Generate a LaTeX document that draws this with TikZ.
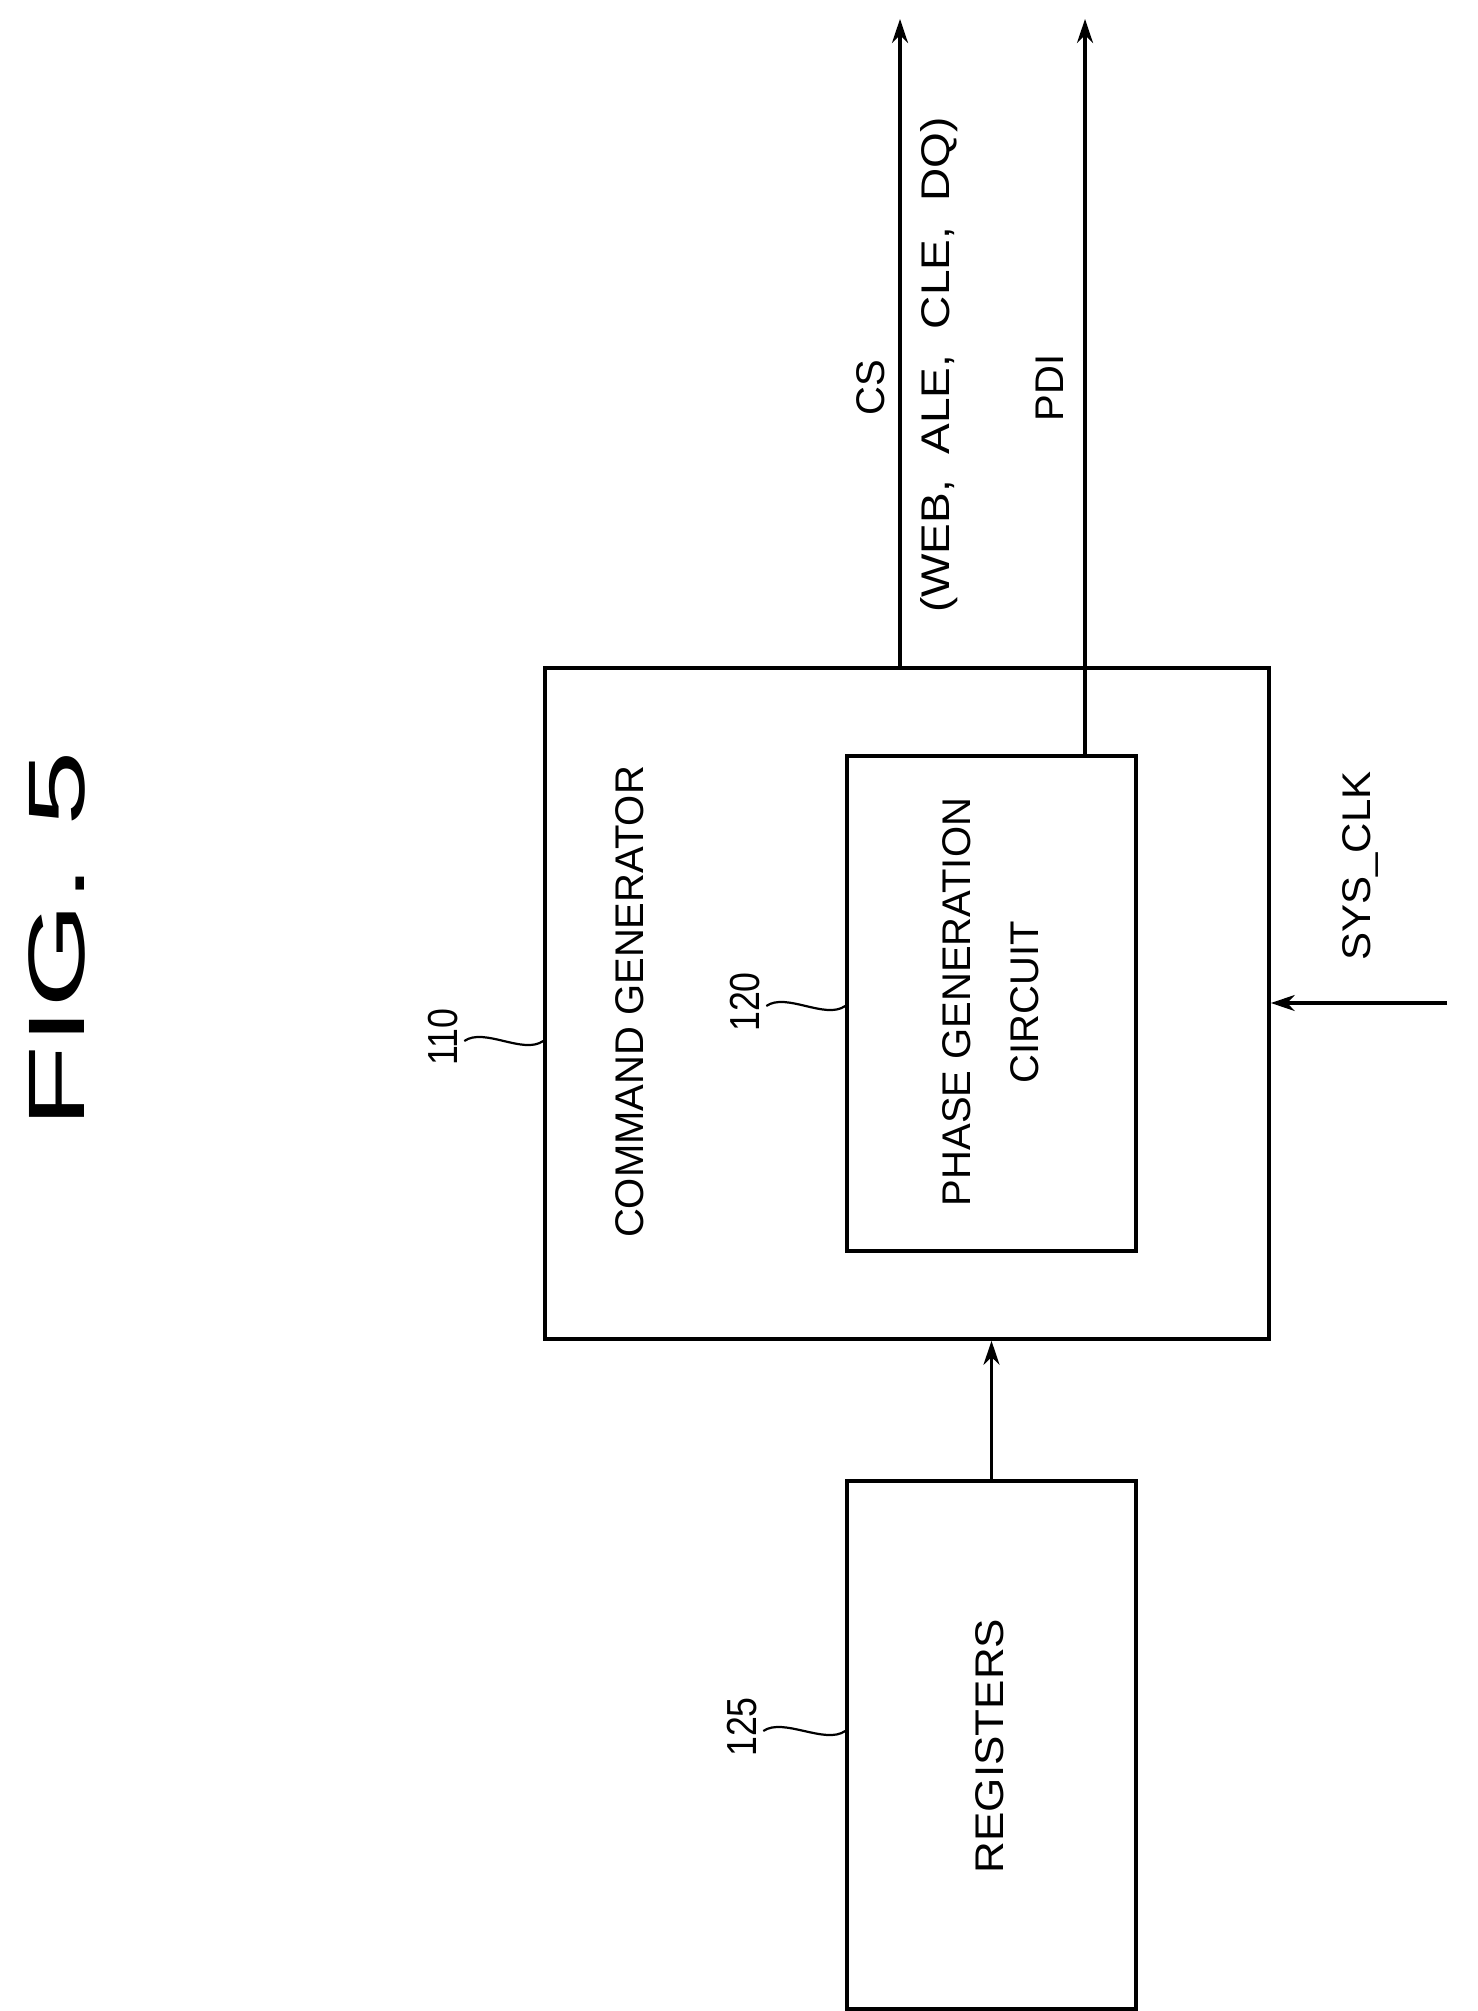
\documentclass[tikz,border=0pt]{standalone}
\usepackage{fontspec}
\setmainfont{Liberation Sans}
\usetikzlibrary{arrows.meta}
\begin{document}
\begin{tikzpicture}[x=0.5pt,y=-0.5pt,
  box/.style={draw,line width=1.8pt},
  wire/.style={line width=1.8pt},
  arr/.style={wire,-{Stealth[length=12pt,width=8pt]}},
  lbl/.style={rotate=90,transform shape,inner sep=0pt},
  txt/.style={lbl,font=\fontsize{20}{24}\selectfont,xscale=1.0},
  num/.style={lbl,font=\fontsize{21}{24}\selectfont,xscale=0.85}]
\useasboundingbox (0,0) rectangle (1477,2011);
\node[box,minimum width=362pt,minimum height=335.5pt] (cg) at (907,1003.5) {};
\node[box,minimum width=144.5pt,minimum height=247.5pt] (pg) at (991.5,1003.5) {};
\node[box,minimum width=144.5pt,minimum height=264pt] (reg) at (991.5,1745) {};
\node[lbl,font=\fontsize{40}{44}\selectfont,xscale=1.7] (fig) at (57,940) {FIG. 5};
\node[txt] (cgt) at (630,1002) {COMMAND GENERATOR};
\node[txt] (pgt) at (957,1002) {PHASE GENERATION};
\node[txt] (pgc) at (1025,1002) {CIRCUIT};
\node[txt,xscale=1.1] (regt) at (990,1746) {REGISTERS};
\node[txt] (cs) at (871,388) {CS};
\node[txt,xscale=1.15] (web) at (939,365) {(WEB,\ \ ALE,\ \ CLE,\ \ DQ)};
\node[txt] (pdi) at (1050,388) {PDI};
\node[txt,xscale=1.05] (clk) at (1360,866) {SYS\_CLK};
\node[num] (n110) at (443,1037) {110};
\node[num] (n120) at (745,1002) {120};
\node[num] (n125) at (742,1727) {125};
\coordinate (csend) at (900,19);
\coordinate (pdiend) at (1085,19);
\coordinate (clkin) at (1447,1003);
\draw[arr] (cg.north west -| csend) -- (csend);
\draw[arr] (pg.north west -| pdiend) -- (pdiend);
\draw[arr] (clkin) -- (clkin -| cg.east);
\draw[arr] (reg.north) -- (reg.north |- cg.south);
\draw[wire,line width=1.1pt] (n110.south) ++(6,4) coordinate (a1) .. controls +(20,-14) and +(-20,14) .. (a1 -| cg.west);
\draw[wire,line width=1.1pt] (n120.south) ++(6,4) coordinate (a2) .. controls +(20,-14) and +(-20,14) .. (a2 -| pg.west);
\draw[wire,line width=1.1pt] (n125.south) ++(6,4) coordinate (a3) .. controls +(20,-14) and +(-20,14) .. (a3 -| reg.west);
\end{tikzpicture}
\end{document}
